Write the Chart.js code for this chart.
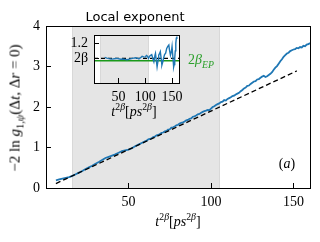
<!DOCTYPE html>
<html>
<head>
<meta charset="utf-8">
<script src="https://cdn.jsdelivr.net/npm/chart.js@4.4.1/dist/chart.umd.min.js"></script>
<style>
body { margin: 0; background: #fff; }
#wrap { position: relative; width: 320px; height: 242px; overflow: hidden; }
canvas { position: absolute; }
#main { left: 0; top: 0; }
#inset { left: 60px; top: 0; }
.t { position: absolute; font-family: "Liberation Serif", serif; font-size: 14px; white-space: nowrap; line-height: 1; color: #000; transform: translate(-50%, -50%); }
.t sub, .t sup { font-size: 70%; line-height: 0; }
</style>
</head>
<body>
<div id="wrap">
  <canvas id="main" width="320" height="242"></canvas>
  <canvas id="inset" width="140" height="125"></canvas>
  <div class="t" id="ylab" style="left:15px;top:108px;font-size:15px;transform:translate(-50%,-50%) rotate(-90deg);">−2 ln <i>g</i><sub>1,<i>ψ</i></sub>(Δ<i>t</i>, Δ<i>r</i> = 0)</div>
  <div class="t" style="left:178px;top:222px;"><i>t</i><sup>2<i>β</i></sup>[<i>ps</i><sup>2<i>β</i></sup>]</div>
  <div class="t" style="left:134px;top:112px;"><i>t</i><sup>2<i>β</i></sup>[<i>ps</i><sup>2<i>β</i></sup>]</div>
  <div class="t" style="left:287px;top:164px;">(<i>a</i>)</div>
  <div class="t" style="left:135px;top:16px;font-family:'DejaVu Sans',sans-serif;font-size:13px;">Local exponent</div>
  <div class="t" style="left:201px;top:60px;color:#2ca02c;">2<i>β</i><sub><i>EP</i></sub></div>
</div>
<script>
// main curve
const mainX = [6, 8, 10, 12, 14, 16, 18, 20, 22, 24, 26, 28, 30, 32, 34, 36, 38, 40, 42, 44, 46, 48, 50, 52, 54, 56, 58, 60,
    61, 62, 63, 64, 65, 66, 67, 68, 69, 70,
    71, 72, 73, 74, 75, 76, 77, 78, 79, 80,
    81, 82, 83, 84, 85, 86, 87, 88, 89, 90,
    91, 92, 93, 94, 95, 96, 97, 98, 99, 100,
    101, 102, 103, 104, 105, 106, 107, 108, 109, 110,
    111, 112, 113, 114, 115, 116, 117, 118, 119, 120,
    121, 122, 123, 124, 125, 126, 127, 128, 129, 130,
    131, 132, 133, 134, 135, 136, 137, 138, 139, 140,
    141, 142, 143, 144, 145, 146, 147, 148, 149, 150,
    151, 152, 153, 154, 155, 156, 157, 158, 159, 160];
const mainY = [0.19, 0.21, 0.23, 0.25, 0.27, 0.30, 0.34, 0.38, 0.42, 0.47, 0.51, 0.55, 0.60, 0.64, 0.69, 0.74, 0.77, 0.80, 0.83, 0.87, 0.91, 0.93, 0.95, 0.98, 1.03, 1.07, 1.11, 1.15,
    1.17, 1.20, 1.21, 1.23, 1.26, 1.27, 1.30, 1.31, 1.33, 1.36,
    1.37, 1.40, 1.41, 1.44, 1.45, 1.49, 1.50, 1.52, 1.55, 1.56,
    1.59, 1.61, 1.62, 1.64, 1.67, 1.68, 1.71, 1.72, 1.76, 1.77,
    1.79, 1.82, 1.83, 1.86, 1.88, 1.90, 1.91, 1.93, 1.92, 1.96,
    2.00, 2.02, 2.05, 2.07, 2.09, 2.12, 2.13, 2.17, 2.16, 2.20,
    2.22, 2.24, 2.27, 2.28, 2.31, 2.33, 2.35, 2.39, 2.42, 2.46,
    2.48, 2.52, 2.53, 2.57, 2.60, 2.63, 2.64, 2.68, 2.69, 2.72,
    2.75, 2.77, 2.74, 2.76, 2.79, 2.82, 2.86, 2.92, 2.97, 3.01,
    3.07, 3.13, 3.18, 3.24, 3.28, 3.32, 3.34, 3.38, 3.40, 3.42,
    3.43, 3.46, 3.45, 3.48, 3.47, 3.51, 3.50, 3.54, 3.55, 3.58];

// dashed fit
const fitX = [6, 152];
const fitY = [0.11, 2.89];

// shaded window
const shadeFrom = 16;
const shadeTo = 105;

const mainXTicks = [50, 100, 150];
const mainYTicks = [0, 1, 2, 3, 4];

// inset: local exponent
const localX = [24, 28, 32, 36, 38, 42, 46, 50, 54, 58, 62, 66, 70, 74, 78, 82, 86, 88, 91, 94, 97, 100, 102, 104, 106,
    108, 110, 112, 114, 116, 118, 119, 121, 122, 124, 125, 127, 128, 130, 131, 133, 134, 136, 138, 140,
    142, 144, 145, 147, 149, 150, 152, 153, 154, 155, 156, 157, 158, 159];
const localY = [1.013, 1.005, 0.998, 0.993, 0.991, 0.996, 1.0, 0.995, 0.99, 0.993, 0.988, 0.982, 0.99, 0.998, 1.004,
    1.009, 1.0, 0.993, 1.01, 1.027, 1.02, 1.018, 1.04, 1.03, 1.0, 1.03, 1.04, 1.05, 1.0, 0.956,
    1.04, 1.067, 0.95, 0.889, 0.98, 1.044, 1.07, 1.089, 0.98, 0.911, 0.96, 1.0, 1.05, 1.07, 1.133,
    1.16, 1.178, 1.12, 1.044, 1.10, 1.156, 0.98, 0.889, 0.92, 1.0, 1.10, 1.2, 1.267, 1.289];
const insetRange = [4, 163];
const twoBeta = 1.0;
const twoBetaEP = 0.969;
const insetXTicks = [50, 100, 150];
const insetYTicks = [1.0, 1.2];

const serif = "'Liberation Serif', serif";

function pts(xs, ys) {
    const n = Math.min(xs.length, ys.length);
    const out = [];
    for (let i = 0; i < n; i++) out.push({ x: xs[i], y: ys[i] });
    return out;
}

// shaded band, optional white face, full box
const frame = {
    id: "frame",
    beforeDraw(chart, args, opts) {
        const ctx = chart.ctx, a = chart.chartArea, x = chart.scales.x;
        ctx.save();
        if (opts.fill) {
            ctx.fillStyle = opts.fill;
            ctx.fillRect(a.left, a.top, a.width, a.height);
        }
        const x0 = x.getPixelForValue(shadeFrom), x1 = x.getPixelForValue(shadeTo);
        ctx.fillStyle = "#e5e5e5";
        ctx.fillRect(x0, a.top, x1 - x0, a.height);
        ctx.strokeStyle = "#d8d8d8";
        ctx.lineWidth = 1;
        ctx.beginPath();
        ctx.moveTo(Math.round(x0) + 0.5, a.top); ctx.lineTo(Math.round(x0) + 0.5, a.bottom);
        ctx.moveTo(Math.round(x1) + 0.5, a.top); ctx.lineTo(Math.round(x1) + 0.5, a.bottom);
        ctx.stroke();
        ctx.restore();
    },
    afterDraw(chart) {
        const ctx = chart.ctx, a = chart.chartArea;
        ctx.save();
        ctx.strokeStyle = "#000";
        ctx.lineWidth = 1;
        ctx.strokeRect(Math.round(a.left) + 0.5, Math.round(a.top) + 0.5, Math.round(a.width), Math.round(a.height));
        ctx.restore();
    }
};

function axis(min, max, tickVals, width, height, cb) {
    const s = {
        type: "linear",
        min: min,
        max: max,
        afterBuildTicks: sc => { sc.ticks = tickVals.map(v => ({ value: v })); },
        grid: { drawOnChartArea: false, tickLength: -5, color: "#000", lineWidth: 1 },
        border: { color: "#000", width: 1 },
        ticks: { padding: 11, color: "#000", font: { family: serif, size: 14 }, maxRotation: 0, autoSkip: false }
    };
    if (cb) s.ticks.callback = cb;
    if (width) s.afterFit = sc => { sc.width = width; };
    if (height) s.afterFit = sc => { sc.height = height; };
    return s;
}

new Chart(document.getElementById("main").getContext("2d"), {
    type: "line",
    data: {
        datasets: [{
            data: pts(fitX, fitY),
            borderColor: "#000",
            borderWidth: 1.3,
            borderDash: [5, 3],
            pointRadius: 0
        }, {
            data: pts(mainX, mainY),
            borderColor: "#1f77b4",
            borderWidth: 1.8,
            pointRadius: 0
        }]
    },
    options: {
        responsive: false,
        animation: false,
        layout: { padding: { left: 0, top: 26, right: 10, bottom: 0 } },
        scales: {
            x: axis(0, 160, mainXTicks, 0, 54),
            y: axis(0, 4, mainYTicks, 46, 0)
        },
        plugins: { legend: { display: false }, tooltip: { enabled: false }, frame: {} }
    },
    plugins: [frame]
});

new Chart(document.getElementById("inset").getContext("2d"), {
    type: "line",
    data: {
        datasets: [{
            data: pts(localX, localY),
            borderColor: "#1f77b4",
            borderWidth: 1.4,
            pointRadius: 0
        }, {
            data: pts(insetRange, [twoBeta, twoBeta]),
            borderColor: "#000",
            borderWidth: 1.2,
            borderDash: [4, 3],
            pointRadius: 0
        }, {
            data: pts(insetRange, [twoBetaEP, twoBetaEP]),
            borderColor: "#1a9a1a",
            borderWidth: 1.6,
            pointRadius: 0
        }]
    },
    options: {
        responsive: false,
        animation: false,
        layout: { padding: { left: 0, top: 35, right: 21, bottom: 0 } },
        scales: {
            x: axis(insetRange[0], insetRange[1], insetXTicks, 0, 42),
            y: axis(0.675, 1.31, insetYTicks, 34, 0, v => (v === 1 ? "2β" : v.toFixed(1)))
        },
        plugins: { legend: { display: false }, tooltip: { enabled: false }, frame: { fill: "#fff" } }
    },
    plugins: [frame]
});
</script>
</body>
</html>
